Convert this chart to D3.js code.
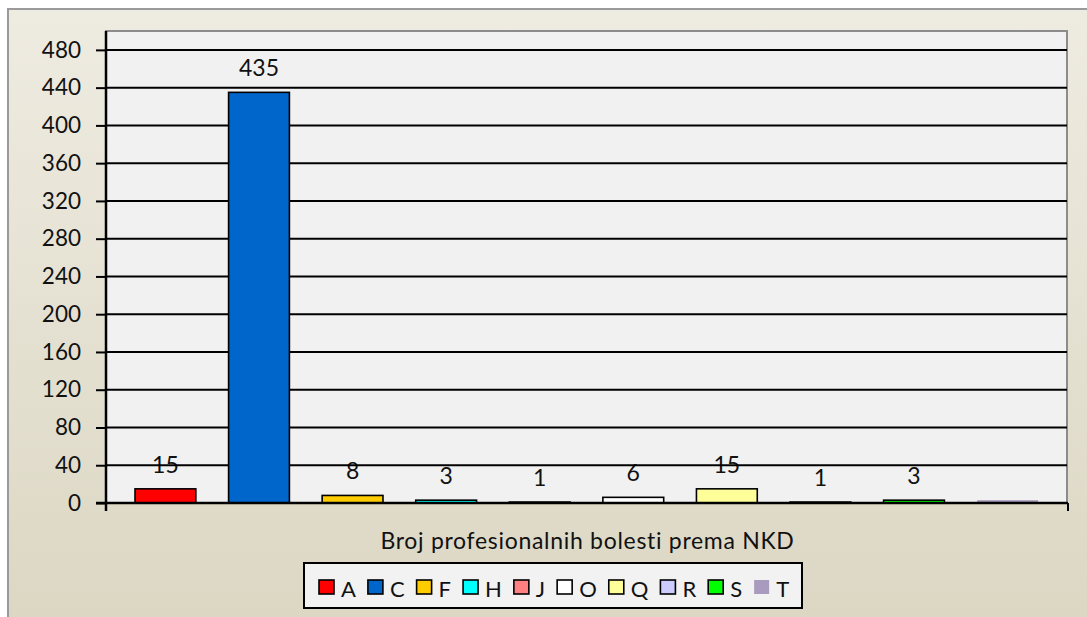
<!DOCTYPE html>
<html><head><meta charset="utf-8">
<script src="https://cdn.jsdelivr.net/npm/d3@7"></script>
<style>body{margin:0;background:#fff}svg{display:block}</style>
</head><body>
<svg id="c" width="1087" height="617"></svg>
<script>
const categories = ["A","C","F","H","J","O","Q","R","S","T"];
const values = [15,435,8,3,1,6,15,1,3,3];
const labels = ["15","435","8","3","1","6","15","1","3",""];
const colors = ["#FF0000","#0066CC","#FFCC00","#00FFFF","#FF8080","#FFFFFF","#FFFF99","#CCCCFF","#00FF00","#A99BBD"];
const outlined = [true,true,true,true,true,true,true,true,true,false];
const yTicks = [0,40,80,120,160,200,240,280,320,360,400,440,480];
const axisTitle = "Broj profesionalnih bolesti prema NKD";

const svg = d3.select("#c");
const FONT = "Lato, 'Open Sans', sans-serif";
const defs = svg.append("defs");
const g = defs.append("linearGradient").attr("id","bg").attr("x1",0).attr("y1",0).attr("x2",0).attr("y2",1);
g.append("stop").attr("offset",0).attr("stop-color","#EEEBE1");
g.append("stop").attr("offset",1).attr("stop-color","#DCD7C3");

svg.append("rect").attr("x",8).attr("y",9).attr("width",1100).attr("height",620)
  .attr("fill","url(#bg)").attr("stroke","#9A9A9A").attr("stroke-width",2);

const L=106, R=1067, T=31, B=503;
const x = d3.scaleBand().domain(categories).range([L,R]).paddingInner(0.35).paddingOuter(0.31);
const y = d3.scaleLinear().domain([0,500]).range([B,T]);

svg.append("rect").attr("x",L).attr("y",T).attr("width",R-L).attr("height",B-T)
  .attr("fill","#F1F1F1").attr("stroke","#8C8C8C").attr("stroke-width",2);

// labels (under gridlines)
svg.append("g").selectAll("text").data(categories).join("text")
  .attr("x",d=>x(d)+x.bandwidth()/2)
  .attr("y",(d,i)=>y(values[i])-16)
  .attr("text-anchor","middle")
  .attr("font-family",FONT).attr("font-size",23).attr("fill","#111")
  .text((d,i)=>labels[i]);

// gridlines
svg.append("g").selectAll("line").data(yTicks.filter(t=>t>0)).join("line")
  .attr("x1",L).attr("x2",R).attr("y1",d=>y(d)).attr("y2",d=>y(d))
  .attr("stroke","#000").attr("stroke-width",2);

// bars
svg.append("g").selectAll("rect").data(categories).join("rect")
  .attr("x",d=>x(d)).attr("width",x.bandwidth())
  .attr("y",(d,i)=>y(values[i])).attr("height",(d,i)=>B-y(values[i]))
  .attr("fill",(d,i)=>colors[i])
  .attr("stroke",(d,i)=>outlined[i]?"#000":"none").attr("stroke-width",1.6);

// y axis
const yAxis = svg.append("g").attr("transform",`translate(${L},0)`)
  .call(d3.axisLeft(y).tickValues(yTicks).tickSize(10).tickPadding(15));
yAxis.select(".domain").remove();
yAxis.selectAll(".tick line").attr("stroke","#000").attr("stroke-width",2);
yAxis.selectAll(".tick text").attr("font-family",FONT).attr("font-size",22.5).attr("fill","#111");
svg.append("line").attr("x1",L).attr("x2",L).attr("y1",T).attr("y2",B+8).attr("stroke","#000").attr("stroke-width",2.5);
svg.append("line").attr("x1",L-10).attr("x2",R+1).attr("y1",B).attr("y2",B).attr("stroke","#000").attr("stroke-width",2.5);
svg.append("line").attr("x1",R+1).attr("x2",R+1).attr("y1",B).attr("y2",B+8).attr("stroke","#000").attr("stroke-width",2);

// axis title
svg.append("text").attr("x",(L+R)/2+1).attr("y",549).attr("text-anchor","middle")
  .attr("font-family",FONT).attr("font-size",23).attr("letter-spacing",0.7).attr("fill","#111").text(axisTitle);

// legend
const lg = svg.append("g");
const box = lg.append("rect").attr("x",304).attr("y",563).attr("width",498).attr("height",45)
  .attr("fill","#F2F2F2").attr("stroke","#000").attr("stroke-width",2);
let cx = 319;
categories.forEach((c,i)=>{
  lg.append("rect").attr("x",cx).attr("y",580).attr("width",15).attr("height",14)
    .attr("fill",colors[i]).attr("stroke",outlined[i]?"#000":"none").attr("stroke-width",1.6);
  const t = lg.append("text").attr("x",cx+22).attr("y",597).attr("font-family",FONT)
    .attr("font-size",22).attr("fill","#111").text(c);
  cx += 22 + t.node().getComputedTextLength() + 12;
});
</script>
</body></html>
